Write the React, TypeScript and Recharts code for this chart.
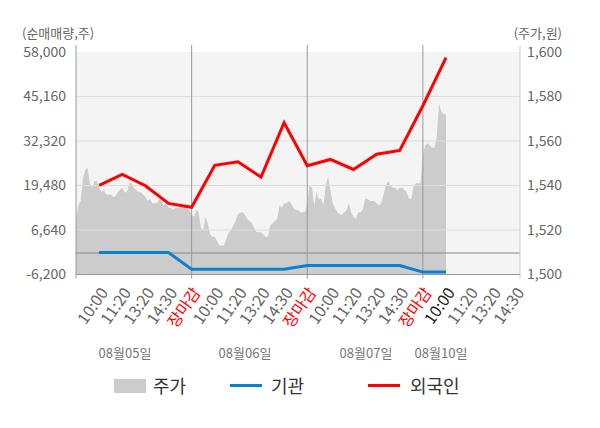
import { ComposedChart, Area, Line, XAxis, YAxis, CartesianGrid, ReferenceLine } from 'recharts';

// price samples, 50 per trading day (the last day is still open)
const priceAug05 = [
  1525, 1531, 1533, 1543, 1547, 1548, 1541, 1539, 1542, 1542,
  1539, 1537, 1538, 1536, 1536, 1536, 1535, 1535, 1537, 1538,
  1539, 1537, 1537, 1541, 1541, 1539, 1538, 1537, 1537, 1536,
  1535, 1533, 1534, 1532, 1532, 1532, 1534, 1533, 1531, 1532,
  1530, 1530, 1529, 1530, 1530, 1530, 1531, 1531, 1530, 1529,
];
const priceAug06 = [
  1527, 1526, 1529, 1528, 1521, 1520, 1526, 1523, 1518, 1517,
  1517, 1515, 1513, 1513, 1513, 1516, 1519, 1520, 1522, 1524,
  1527, 1528, 1528, 1527, 1525, 1524, 1523, 1521, 1519, 1519,
  1519, 1518, 1517, 1517, 1522, 1523, 1524, 1525, 1531, 1530,
  1532, 1532, 1533, 1532, 1530, 1529, 1529, 1528, 1528, 1528,
];
const priceAug07 = [
  1532, 1540, 1539, 1531, 1537, 1534, 1534, 1531, 1540, 1544,
  1538, 1532, 1530, 1528, 1527, 1527, 1528, 1529, 1532, 1528,
  1526, 1525, 1528, 1528, 1529, 1534, 1534, 1533, 1533, 1533,
  1532, 1531, 1532, 1536, 1540, 1542, 1540, 1539, 1539, 1538,
  1539, 1539, 1538, 1537, 1534, 1534, 1540, 1541, 1541, 1541,
];
const priceAug10 = [1554, 1558, 1559, 1558, 1557, 1557, 1562, 1577, 1573, 1572, 1572];

// cumulative net buying at each labelled time (10:00 ... 장마감)
const foreignNet = [19500, 22700, 19400, 14300, 13200, 25300, 26300, 21900, 37600, 25200, 27000, 24100, 28500, 29600, 42500, 56400];
const institutionNet = [150, 150, 150, 150, -4700, -4700, -4700, -4700, -4700, -3600, -3600, -3600, -3600, -3600, -5500, -5500];

const timeTicks = [10, 20, 30, 40, 50, 60, 70, 80, 90, 100, 110, 120, 130, 140, 150, 160, 170, 180, 190];
const timeLabels = [
  '10:00', '11:20', '13:20', '14:30', '장마감',
  '10:00', '11:20', '13:20', '14:30', '장마감',
  '10:00', '11:20', '13:20', '14:30', '장마감',
  '10:00', '11:20', '13:20', '14:30',
];
const dateLabels = ['08월05일', '08월06일', '08월07일', '08월10일'];
const dayStarts = [0, 50, 100, 150];
const xEnd = 192;

const volumeTicks = [-6200, 6640, 19480, 32320, 45160, 58000];
const priceTicks = [1500, 1520, 1540, 1560, 1580, 1600];

const FONT = '"Noto Sans CJK KR", "Noto Sans", sans-serif';
const RED = '#ff0000';
const BLUE = '#0c80d0';
const GRAY = '#cccccc';

// one row per price sample, line values on the labelled times
const rows: any[] = [];
[priceAug05, priceAug06, priceAug07, priceAug10].forEach((prices, d) => {
  prices.forEach((p, i) => rows.push({ t: d * 50 + i, price: p }));
});
foreignNet.forEach((v, k) => {
  const row = rows.find((r) => r.t === timeTicks[k]);
  if (row) {
    row.foreign = v;
    row.institution = institutionNet[k];
  }
});

function TimeTick({ x, y, payload }: any) {
  const idx = timeTicks.indexOf(payload.value);
  const label = timeLabels[idx];
  let color = '#666';
  if (label === '장마감') color = RED;
  if (idx === 15) color = '#222';
  return (
    <text
      transform={`translate(${x + 5},${y + 15}) rotate(-55)`}
      textAnchor="end"
      dy="0.35em"
      fontSize={16}
      fill={color}
    >
      {label}
    </text>
  );
}

// vertical rule that pokes out a little above and below the plot
function DayRule(props: any) {
  const top = Math.min(props.y1, props.y2) - 7;
  const bottom = Math.max(props.y1, props.y2) + 4;
  return <line x1={props.x1} x2={props.x2} y1={top} y2={bottom} stroke={props.stroke} strokeWidth={1} />;
}

const dateCenters = [125, 245, 366, 441];

export default function App() {
  return (
    <div style={{ position: 'absolute', left: 0, top: 0, width: 600, height: 428, background: '#fff', fontFamily: FONT }}>
      <div style={{ position: 'absolute', left: 22, top: 24, fontSize: 13, lineHeight: '18px', color: '#666' }}>(순매매량,주)</div>
      <div style={{ position: 'absolute', right: 38, top: 24, fontSize: 13, lineHeight: '18px', color: '#666' }}>(주가,원)</div>

      <ComposedChart width={600} height={428} data={rows} margin={{ top: 52, right: 0, bottom: 93.5, left: 0 }}>
        <CartesianGrid fill="#f4f4f4" horizontal={false} vertical={false} />
        <XAxis
          dataKey="t"
          type="number"
          domain={[0, xEnd]}
          ticks={timeTicks}
          interval={0}
          height={60}
          tickSize={0}
          tickMargin={0}
          tickLine={false}
          axisLine={{ stroke: '#999' }}
          tick={<TimeTick />}
        />
        <YAxis
          yAxisId="volume"
          domain={[-6200, 58000]}
          ticks={volumeTicks}
          width={76}
          tickSize={0}
          tickMargin={10}
          tickLine={false}
          axisLine={false}
          tick={{ fontSize: 14, fill: '#666' }}
          tickFormatter={(v: number) => v.toLocaleString('en-US')}
        />
        <YAxis
          yAxisId="price"
          orientation="right"
          domain={[1500, 1600]}
          ticks={priceTicks}
          width={80}
          tickSize={0}
          tickMargin={7}
          tickLine={false}
          axisLine={false}
          tick={{ fontSize: 14, fill: '#666' }}
          tickFormatter={(v: number) => v.toLocaleString('en-US')}
        />
        <Area
          yAxisId="price"
          dataKey="price"
          type="linear"
          baseValue={1500}
          fill={GRAY}
          fillOpacity={1}
          stroke="none"
          isAnimationActive={false}
        />
        {volumeTicks.slice(1, -1).map((v) => (
          <ReferenceLine key={v} yAxisId="volume" y={v} stroke="#dddddd" />
        ))}
        <ReferenceLine yAxisId="volume" y={0} stroke="#888" />
        {dayStarts.map((t) => (
          <ReferenceLine key={t} yAxisId="volume" x={t} stroke="#999" shape={<DayRule />} />
        ))}
        <ReferenceLine yAxisId="volume" x={xEnd} stroke="#ccc" shape={<DayRule />} />
        <Line
          yAxisId="volume"
          dataKey="institution"
          type="linear"
          stroke={BLUE}
          strokeWidth={3}
          dot={false}
          connectNulls
          isAnimationActive={false}
        />
        <Line
          yAxisId="volume"
          dataKey="foreign"
          type="linear"
          stroke={RED}
          strokeWidth={3}
          dot={false}
          connectNulls
          isAnimationActive={false}
        />
      </ComposedChart>

      {dateLabels.map((d, i) => (
        <div
          key={d}
          style={{ position: 'absolute', left: dateCenters[i] - 40, width: 80, top: 344, fontSize: 13, lineHeight: '18px', color: '#777', textAlign: 'center' }}
        >
          {d}
        </div>
      ))}

      <div style={{ position: 'absolute', left: 114, top: 378.5, width: 32, height: 14, background: GRAY }} />
      <div style={{ position: 'absolute', left: 153, top: 375, fontSize: 18, lineHeight: '21px', color: '#333' }}>주가</div>
      <div style={{ position: 'absolute', left: 230, top: 384, width: 32, height: 3, background: BLUE }} />
      <div style={{ position: 'absolute', left: 271, top: 375, fontSize: 18, lineHeight: '21px', color: '#333' }}>기관</div>
      <div style={{ position: 'absolute', left: 368, top: 384, width: 32, height: 3, background: RED }} />
      <div style={{ position: 'absolute', left: 410, top: 375, fontSize: 18, lineHeight: '21px', color: '#333' }}>외국인</div>
    </div>
  );
}
